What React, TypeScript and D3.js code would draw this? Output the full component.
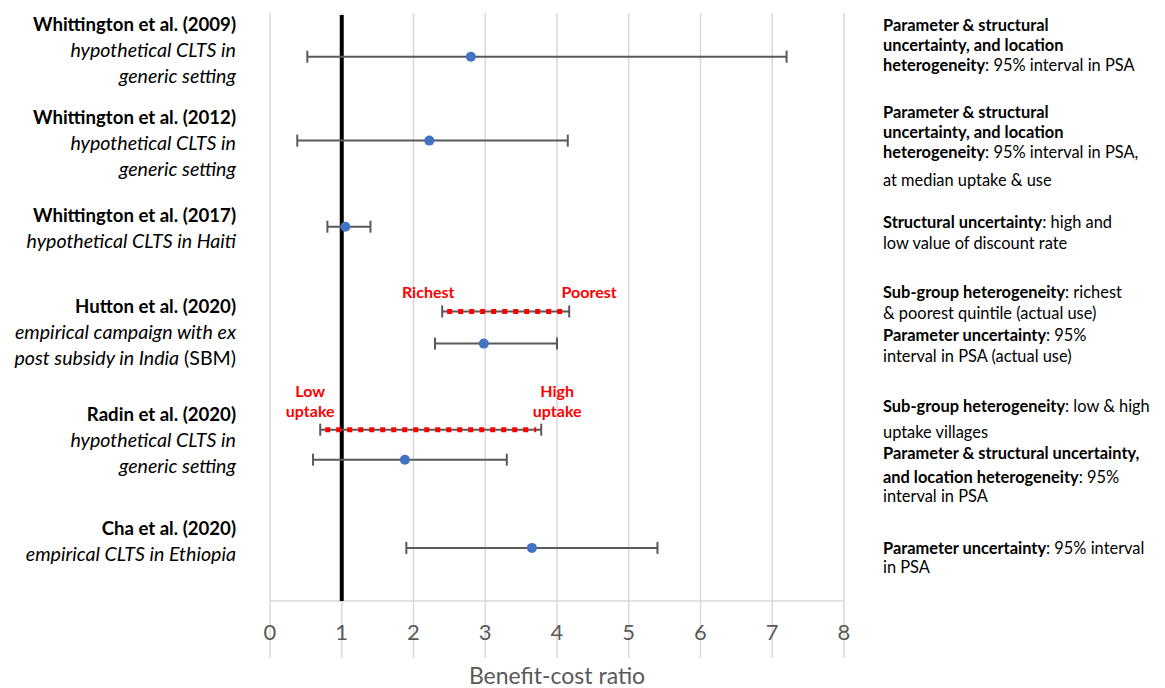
import React, { useEffect, useRef } from 'react';
import * as d3 from 'd3';

// study rows, top to bottom
const studyNames = [
  'Whittington et al. (2009)',
  'Whittington et al. (2012)',
  'Whittington et al. (2017)',
  'Hutton et al. (2020)',
  'Radin et al. (2020)',
  'Cha et al. (2020)',
];
// description lines: [text, italic]
const studyDesc = [
  [[['hypothetical CLTS in', true]], [['generic setting', true]]],
  [[['hypothetical CLTS in', true]], [['generic setting', true]]],
  [[['hypothetical CLTS in Haiti', true]]],
  [[['empirical campaign with ex', true]], [['post subsidy in India', true], [' (SBM)', false]]],
  [[['hypothetical CLTS in', true]], [['generic setting', true]]],
  [[['empirical CLTS in Ethiopia', true]]],
];
const labelTop = [25, 118, 216, 307, 415, 529];

// point estimates and 95% intervals
const pointEst = [2.8, 2.22, 1.05, 2.98, 1.88, 3.65];
const lowCI = [0.52, 0.38, 0.8, 2.3, 0.6, 1.9];
const highCI = [7.2, 4.15, 1.4, 4.0, 3.3, 5.4];
const rowPos = [1.02, 2.98, 4.99, 7.72, 10.43, 12.49];

// sub-group ranges (red)
const subLow = [2.4, 0.7];
const subHigh = [4.17, 3.78];
const subPos = [6.97, 9.73];
const subLabelLow = [['Richest'], ['Low', 'uptake']];
const subLabelHigh = [['Poorest'], ['High', 'uptake']];

const xTicks = [0, 1, 2, 3, 4, 5, 6, 7, 8];

// right-hand notes: lines of [text, bold], with line centre y
const notes = [
  { y: 25, parts: [['Parameter & structural', true]] },
  { y: 45, parts: [['uncertainty, and location', true]] },
  { y: 65, parts: [['heterogeneity', true], [': 95% interval in PSA', false]] },
  { y: 112, parts: [['Parameter & structural', true]] },
  { y: 132, parts: [['uncertainty, and location', true]] },
  { y: 152, parts: [['heterogeneity', true], [': 95% interval in PSA,', false]] },
  { y: 180, parts: [['at median uptake & use', false]] },
  { y: 222, parts: [['Structural uncertainty', true], [': high and', false]] },
  { y: 243, parts: [['low value of discount rate', false]] },
  { y: 292, parts: [['Sub-group heterogeneity', true], [': richest', false]] },
  { y: 313, parts: [['& poorest quintile (actual use)', false]] },
  { y: 335, parts: [['Parameter uncertainty', true], [': 95%', false]] },
  { y: 356, parts: [['interval in PSA (actual use)', false]] },
  { y: 406, parts: [['Sub-group heterogeneity', true], [': low & high', false]] },
  { y: 432, parts: [['uptake villages', false]] },
  { y: 453, parts: [['Parameter & structural uncertainty,', true]] },
  { y: 477, parts: [['and location heterogeneity', true], [': 95%', false]] },
  { y: 496, parts: [['interval in PSA', false]] },
  { y: 548, parts: [['Parameter uncertainty', true], [': 95% interval', false]] },
  { y: 567, parts: [['in PSA', false]] },
];

const FONT = 'Lato, "Open Sans", sans-serif';

const drawChart = (node) => {
  const width = 1165;
  const height = 688;
  const plot = { left: 270, right: 844, top: 13, bottom: 601 };

  const svg = d3.select(node).attr('width', width).attr('height', height);
  svg.selectAll('*').remove();

  const x = d3.scaleLinear().domain([0, 8]).range([plot.left, plot.right]);
  const y = d3.scaleLinear().domain([0, 13.73]).range([plot.top, plot.bottom]);

  // gridlines, running through the axis down past the tick labels
  svg.append('g')
    .selectAll('line')
    .data(xTicks)
    .enter()
    .append('line')
    .attr('x1', d => x(d))
    .attr('x2', d => x(d))
    .attr('y1', plot.top)
    .attr('y2', 658)
    .attr('stroke', '#d9d9d9')
    .attr('stroke-width', 1.5);

  svg.append('line')
    .attr('x1', plot.left)
    .attr('x2', plot.right)
    .attr('y1', plot.bottom)
    .attr('y2', plot.bottom)
    .attr('stroke', '#d9d9d9')
    .attr('stroke-width', 1.5);

  svg.append('g')
    .selectAll('text')
    .data(xTicks)
    .enter()
    .append('text')
    .attr('x', d => x(d))
    .attr('y', 640)
    .attr('text-anchor', 'middle')
    .attr('font-family', FONT)
    .attr('font-size', 22)
    .attr('fill', '#595959')
    .text(d => d);

  svg.append('text')
    .attr('x', (plot.left + plot.right) / 2)
    .attr('y', 684)
    .attr('text-anchor', 'middle')
    .attr('font-family', FONT)
    .attr('font-size', 23)
    .attr('fill', '#595959')
    .text('Benefit-cost ratio');

  // reference line at BCR = 1
  svg.append('line')
    .attr('x1', x(1))
    .attr('x2', x(1))
    .attr('y1', 15)
    .attr('y2', plot.bottom)
    .attr('stroke', '#000')
    .attr('stroke-width', 4);

  const cap = 6;
  const errorBar = (g, lo, hi, yy) => {
    g.append('line')
      .attr('x1', x(lo)).attr('x2', x(hi))
      .attr('y1', yy).attr('y2', yy)
      .attr('stroke', '#595959').attr('stroke-width', 2);
    [lo, hi].forEach(v => {
      g.append('line')
        .attr('x1', x(v)).attr('x2', x(v))
        .attr('y1', yy - cap).attr('y2', yy + cap)
        .attr('stroke', '#595959').attr('stroke-width', 2);
    });
  };

  // sub-group ranges
  subLow.forEach((lo, i) => {
    const g = svg.append('g');
    const yy = y(subPos[i]);
    errorBar(g, lo, subHigh[i], yy);
    g.append('line')
      .attr('x1', x(lo) + 5).attr('x2', x(subHigh[i]) - 5)
      .attr('y1', yy).attr('y2', yy)
      .attr('stroke', '#ff0000').attr('stroke-width', 5)
      .attr('stroke-dasharray', '5,6');

    const lab = (lines, cx) => {
      lines.forEach((t, j) => {
        g.append('text')
          .attr('x', cx)
          .attr('y', yy - 13 - (lines.length - 1 - j) * 20)
          .attr('text-anchor', 'middle')
          .attr('font-family', FONT)
          .attr('font-weight', 'bold')
          .attr('font-size', 16)
          .attr('fill', '#ff0000')
          .text(t);
      });
    };
    lab(subLabelLow[i], x(lo) - (i === 0 ? 14 : 10));
    lab(subLabelHigh[i], x(subHigh[i]) + (i === 0 ? 20 : 16));
  });

  // study intervals and point estimates
  pointEst.forEach((p, i) => {
    const g = svg.append('g');
    const yy = y(rowPos[i]);
    errorBar(g, lowCI[i], highCI[i], yy);
    g.append('circle')
      .attr('cx', x(p))
      .attr('cy', yy)
      .attr('r', 5)
      .attr('fill', '#4472c4');
  });

  // left study labels
  studyNames.forEach((name, i) => {
    const g = svg.append('g')
      .attr('font-family', FONT)
      .attr('text-anchor', 'end')
      .attr('fill', '#000');
    g.append('text')
      .attr('x', 236)
      .attr('y', labelTop[i] + 6)
      .attr('font-weight', 'bold')
      .attr('font-size', 18.6)
      .text(name);
    studyDesc[i].forEach((line, j) => {
      const t = g.append('text')
        .attr('x', 236)
        .attr('y', labelTop[i] + 6 + (j + 1) * 26)
        .attr('font-size', 19.6);
      line.forEach(([s, it]) => {
        t.append('tspan')
          .attr('font-style', it ? 'italic' : 'normal')
          .text(s);
      });
    });
  });

  // right-hand notes
  const ng = svg.append('g')
    .attr('font-family', FONT)
    .attr('font-size', 16.4)
    .attr('fill', '#000');
  notes.forEach(n => {
    const t = ng.append('text')
      .attr('x', 883)
      .attr('y', n.y + 5.5)
      .attr('xml:space', 'preserve');
    n.parts.forEach(([s, b]) => {
      t.append('tspan')
        .attr('font-weight', b ? 'bold' : 'normal')
        .text(s);
    });
  });
};

export default function App () {
  const ref = useRef(null);
  useEffect(() => {
    drawChart(ref.current);
  }, []);
  return (
    <svg ref={ref} style={{ position: 'absolute', left: 0, top: 0, background: '#fff' }} />
  );
}
